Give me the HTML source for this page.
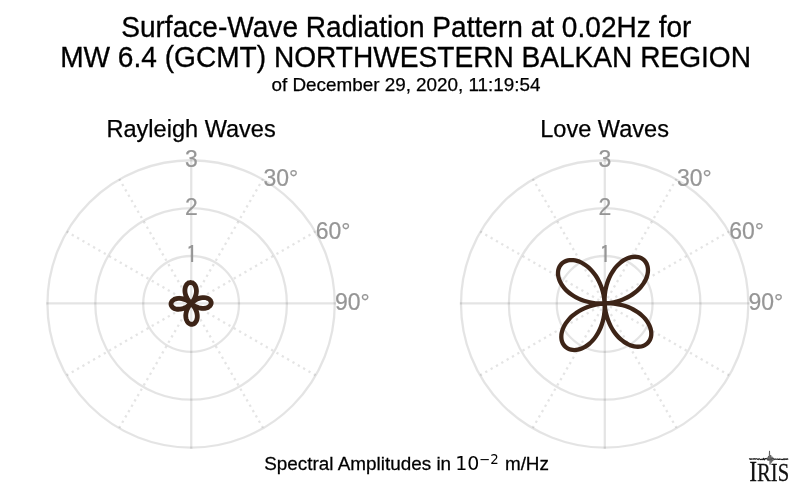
<!DOCTYPE html>
<html><head><meta charset="utf-8"><title>Surface-Wave Radiation Pattern</title>
<style>
html,body{margin:0;padding:0;background:#fff;}
body{width:800px;height:493px;overflow:hidden;font-family:"Liberation Sans",sans-serif;}
svg{display:block;font-family:"Liberation Sans",sans-serif;}
.dj{font-family:"DejaVu Sans",sans-serif;}
</style></head><body>
<svg width="800" height="493" viewBox="0 0 800 493">
<rect width="800" height="493" fill="#fff"/>
<text transform="translate(406.30,36.60) scale(1,1.025)" font-size="28.1" text-anchor="middle" fill="#000" stroke="#000" stroke-width="0.3">Surface-Wave Radiation Pattern at 0.02Hz for</text>
<text transform="translate(405.55,67.00) scale(1,1.04)" font-size="28.1" text-anchor="middle" fill="#000" stroke="#000" stroke-width="0.3">MW 6.4 (GCMT) NORTHWESTERN BALKAN REGION</text>
<text transform="translate(406.00,90.70) scale(1,1.0)" font-size="18.85" text-anchor="middle" fill="#000" stroke="#000" stroke-width="0.25">of December 29, 2020, 11:19:54</text>
<text transform="translate(191.10,136.70) scale(1,1.0)" font-size="23.55" text-anchor="middle" fill="#000" stroke="#000" stroke-width="0.25">Rayleigh Waves</text>
<text transform="translate(604.60,136.70) scale(1,1.0)" font-size="23.55" text-anchor="middle" fill="#000" stroke="#000" stroke-width="0.25">Love Waves</text>
<text transform="translate(0,470.2) scale(1,1.01)" font-size="18.9" fill="#000" stroke="#000" stroke-width="0.25"><tspan x="264.2">Spectral Amplitudes in</tspan><tspan class="dj" font-size="19" x="455.2" stroke-width="0">10</tspan><tspan class="dj" font-size="13.3" x="479" dy="-6.4" stroke-width="0">−2</tspan><tspan x="504.9" dy="6.4">m/Hz</tspan></text>
<circle cx="191.1" cy="303.9" r="47.88" fill="none" stroke="rgba(0,0,0,0.105)" stroke-width="2.3"/>
<circle cx="191.1" cy="303.9" r="95.77" fill="none" stroke="rgba(0,0,0,0.105)" stroke-width="2.3"/>
<circle cx="191.1" cy="303.9" r="143.65" fill="none" stroke="rgba(0,0,0,0.105)" stroke-width="2.3"/>
<line x1="46.30" y1="303.35" x2="335.90" y2="303.35" stroke="rgba(0,0,0,0.105)" stroke-width="2.3"/>
<line x1="191.25" y1="159.10" x2="191.25" y2="448.70" stroke="rgba(0,0,0,0.105)" stroke-width="2.3"/>
<line x1="191.1" y1="303.40" x2="262.92" y2="179.00" stroke="rgba(0,0,0,0.105)" stroke-width="2.3" stroke-dasharray="2.3 3.86"/>
<line x1="191.1" y1="303.40" x2="315.50" y2="231.57" stroke="rgba(0,0,0,0.105)" stroke-width="2.3" stroke-dasharray="2.3 3.86"/>
<line x1="191.1" y1="303.40" x2="315.50" y2="375.22" stroke="rgba(0,0,0,0.105)" stroke-width="2.3" stroke-dasharray="2.3 3.86"/>
<line x1="191.1" y1="303.40" x2="262.92" y2="427.80" stroke="rgba(0,0,0,0.105)" stroke-width="2.3" stroke-dasharray="2.3 3.86"/>
<line x1="191.1" y1="303.40" x2="119.27" y2="427.80" stroke="rgba(0,0,0,0.105)" stroke-width="2.3" stroke-dasharray="2.3 3.86"/>
<line x1="191.1" y1="303.40" x2="66.70" y2="375.23" stroke="rgba(0,0,0,0.105)" stroke-width="2.3" stroke-dasharray="2.3 3.86"/>
<line x1="191.1" y1="303.40" x2="66.70" y2="231.57" stroke="rgba(0,0,0,0.105)" stroke-width="2.3" stroke-dasharray="2.3 3.86"/>
<line x1="191.1" y1="303.40" x2="119.27" y2="179.00" stroke="rgba(0,0,0,0.105)" stroke-width="2.3" stroke-dasharray="2.3 3.86"/>
<text transform="translate(191.40,167.00) scale(1,1.04)" font-size="23" text-anchor="middle" fill="#969696" stroke="#969696" stroke-width="0.2">3</text>
<text transform="translate(191.40,214.80) scale(1,1.04)" font-size="23" text-anchor="middle" fill="#969696" stroke="#969696" stroke-width="0.2">2</text>
<text transform="translate(191.70,262.60) scale(1,1.02)" font-size="23" text-anchor="middle" fill="#969696" stroke="#969696" stroke-width="0.2" font-family="IPAGothic,'Liberation Sans',sans-serif">1</text>
<text transform="translate(263.50,185.80) scale(1,1.04)" font-size="23" text-anchor="start" fill="#969696" stroke="#969696" stroke-width="0.2">30°</text>
<text transform="translate(315.70,238.80) scale(1,1.04)" font-size="23" text-anchor="start" fill="#969696" stroke="#969696" stroke-width="0.2">60°</text>
<text transform="translate(335.00,310.10) scale(1,1.04)" font-size="23" text-anchor="start" fill="#969696" stroke="#969696" stroke-width="0.2">90°</text>
<circle cx="604.65" cy="303.9" r="47.88" fill="none" stroke="rgba(0,0,0,0.105)" stroke-width="2.3"/>
<circle cx="604.65" cy="303.9" r="95.77" fill="none" stroke="rgba(0,0,0,0.105)" stroke-width="2.3"/>
<circle cx="604.65" cy="303.9" r="143.65" fill="none" stroke="rgba(0,0,0,0.105)" stroke-width="2.3"/>
<line x1="459.85" y1="303.35" x2="749.45" y2="303.35" stroke="rgba(0,0,0,0.105)" stroke-width="2.3"/>
<line x1="604.80" y1="159.10" x2="604.80" y2="448.70" stroke="rgba(0,0,0,0.105)" stroke-width="2.3"/>
<line x1="604.65" y1="303.40" x2="676.47" y2="179.00" stroke="rgba(0,0,0,0.105)" stroke-width="2.3" stroke-dasharray="2.3 3.86"/>
<line x1="604.65" y1="303.40" x2="729.05" y2="231.57" stroke="rgba(0,0,0,0.105)" stroke-width="2.3" stroke-dasharray="2.3 3.86"/>
<line x1="604.65" y1="303.40" x2="729.05" y2="375.22" stroke="rgba(0,0,0,0.105)" stroke-width="2.3" stroke-dasharray="2.3 3.86"/>
<line x1="604.65" y1="303.40" x2="676.47" y2="427.80" stroke="rgba(0,0,0,0.105)" stroke-width="2.3" stroke-dasharray="2.3 3.86"/>
<line x1="604.65" y1="303.40" x2="532.82" y2="427.80" stroke="rgba(0,0,0,0.105)" stroke-width="2.3" stroke-dasharray="2.3 3.86"/>
<line x1="604.65" y1="303.40" x2="480.25" y2="375.23" stroke="rgba(0,0,0,0.105)" stroke-width="2.3" stroke-dasharray="2.3 3.86"/>
<line x1="604.65" y1="303.40" x2="480.25" y2="231.57" stroke="rgba(0,0,0,0.105)" stroke-width="2.3" stroke-dasharray="2.3 3.86"/>
<line x1="604.65" y1="303.40" x2="532.82" y2="179.00" stroke="rgba(0,0,0,0.105)" stroke-width="2.3" stroke-dasharray="2.3 3.86"/>
<text transform="translate(604.95,167.00) scale(1,1.04)" font-size="23" text-anchor="middle" fill="#969696" stroke="#969696" stroke-width="0.2">3</text>
<text transform="translate(604.95,214.80) scale(1,1.04)" font-size="23" text-anchor="middle" fill="#969696" stroke="#969696" stroke-width="0.2">2</text>
<text transform="translate(605.25,262.60) scale(1,1.02)" font-size="23" text-anchor="middle" fill="#969696" stroke="#969696" stroke-width="0.2" font-family="IPAGothic,'Liberation Sans',sans-serif">1</text>
<text transform="translate(677.05,185.80) scale(1,1.04)" font-size="23" text-anchor="start" fill="#969696" stroke="#969696" stroke-width="0.2">30°</text>
<text transform="translate(729.25,238.80) scale(1,1.04)" font-size="23" text-anchor="start" fill="#969696" stroke="#969696" stroke-width="0.2">60°</text>
<text transform="translate(748.55,310.10) scale(1,1.04)" font-size="23" text-anchor="start" fill="#969696" stroke="#969696" stroke-width="0.2">90°</text>
<path d="M191.10 282.55C191.46 282.60 191.83 282.70 192.18 282.84C192.53 282.98 192.88 283.17 193.20 283.40C193.53 283.64 193.85 283.92 194.14 284.23C194.43 284.55 194.70 284.91 194.95 285.30C195.19 285.70 195.41 286.13 195.60 286.60C195.79 287.06 195.95 287.56 196.08 288.08C196.20 288.61 196.29 289.16 196.35 289.73C196.40 290.30 196.42 290.90 196.40 291.50C196.37 292.11 196.31 292.74 196.21 293.36C196.11 293.99 195.97 294.63 195.79 295.27C195.61 295.91 195.39 296.55 195.14 297.18C194.88 297.82 194.58 298.45 194.25 299.06C193.92 299.68 193.55 300.29 193.15 300.87C192.75 301.46 192.07 302.27 191.85 302.57C191.63 302.87 191.56 302.89 191.83 302.67C192.10 302.46 192.89 301.72 193.45 301.29C194.01 300.86 194.59 300.46 195.18 300.10C195.77 299.73 196.38 299.41 196.99 299.12C197.60 298.83 198.22 298.58 198.84 298.38C199.45 298.17 200.07 298.00 200.68 297.87C201.29 297.74 201.90 297.65 202.48 297.60C203.07 297.55 203.65 297.54 204.21 297.56C204.76 297.59 205.30 297.66 205.81 297.75C206.32 297.85 206.80 297.99 207.25 298.15C207.70 298.31 208.13 298.51 208.51 298.73C208.89 298.96 209.24 299.21 209.55 299.48C209.86 299.75 210.13 300.04 210.35 300.35C210.57 300.66 210.76 300.99 210.89 301.32C211.03 301.65 211.12 302.00 211.16 302.35C211.20 302.70 211.20 303.05 211.15 303.40C211.10 303.75 211.00 304.10 210.86 304.44C210.72 304.77 210.53 305.11 210.30 305.42C210.07 305.73 209.79 306.03 209.48 306.31C209.16 306.59 208.81 306.85 208.41 307.08C208.02 307.31 207.59 307.52 207.13 307.70C206.67 307.87 206.17 308.02 205.65 308.13C205.14 308.24 204.59 308.32 204.02 308.36C203.46 308.40 202.86 308.41 202.26 308.37C201.66 308.34 201.04 308.26 200.42 308.15C199.80 308.04 199.17 307.88 198.54 307.69C197.91 307.50 197.27 307.27 196.64 307.00C196.02 306.73 195.40 306.42 194.79 306.08C194.18 305.74 193.58 305.36 193.01 304.94C192.43 304.53 191.44 303.65 191.33 303.61C191.23 303.57 191.99 304.24 192.39 304.69C192.80 305.15 193.33 305.77 193.75 306.34C194.17 306.91 194.56 307.50 194.91 308.10C195.26 308.70 195.57 309.32 195.85 309.94C196.12 310.55 196.36 311.18 196.56 311.81C196.76 312.43 196.91 313.06 197.03 313.67C197.15 314.29 197.23 314.90 197.26 315.50C197.30 316.09 197.30 316.68 197.26 317.24C197.22 317.80 197.14 318.34 197.03 318.85C196.92 319.37 196.77 319.86 196.60 320.31C196.42 320.77 196.21 321.20 195.97 321.58C195.74 321.97 195.47 322.32 195.19 322.63C194.91 322.94 194.59 323.22 194.27 323.44C193.95 323.67 193.61 323.85 193.26 323.99C192.92 324.12 192.55 324.22 192.19 324.26C191.83 324.30 191.46 324.30 191.10 324.25C190.74 324.20 190.37 324.10 190.02 323.96C189.67 323.82 189.32 323.63 189.00 323.40C188.67 323.16 188.35 322.88 188.06 322.57C187.77 322.25 187.50 321.89 187.25 321.50C187.01 321.10 186.79 320.67 186.60 320.20C186.41 319.74 186.25 319.24 186.12 318.72C186.00 318.19 185.91 317.64 185.85 317.07C185.80 316.50 185.78 315.90 185.80 315.30C185.83 314.69 185.89 314.06 185.99 313.44C186.09 312.81 186.23 312.17 186.41 311.53C186.59 310.89 186.81 310.25 187.06 309.62C187.32 308.98 187.62 308.35 187.95 307.74C188.28 307.12 188.65 306.51 189.05 305.93C189.45 305.34 190.13 304.53 190.35 304.23C190.57 303.93 190.64 303.91 190.37 304.13C190.10 304.34 189.31 305.08 188.75 305.51C188.19 305.94 187.61 306.34 187.02 306.70C186.43 307.07 185.82 307.39 185.21 307.68C184.60 307.97 183.98 308.22 183.36 308.42C182.75 308.63 182.13 308.80 181.52 308.93C180.91 309.06 180.30 309.15 179.72 309.20C179.13 309.25 178.55 309.26 177.99 309.24C177.44 309.21 176.90 309.14 176.39 309.05C175.88 308.95 175.40 308.81 174.95 308.65C174.50 308.49 174.07 308.29 173.69 308.07C173.31 307.84 172.96 307.59 172.65 307.32C172.34 307.05 172.07 306.76 171.85 306.45C171.63 306.14 171.44 305.81 171.31 305.48C171.17 305.15 171.08 304.80 171.04 304.45C171.00 304.10 171.00 303.75 171.05 303.40C171.10 303.05 171.20 302.70 171.34 302.36C171.48 302.03 171.67 301.69 171.90 301.38C172.13 301.07 172.41 300.77 172.72 300.49C173.04 300.21 173.39 299.95 173.79 299.72C174.18 299.49 174.61 299.28 175.07 299.10C175.53 298.93 176.03 298.78 176.55 298.67C177.06 298.56 177.61 298.48 178.18 298.44C178.74 298.40 179.34 298.39 179.94 298.43C180.54 298.46 181.16 298.54 181.78 298.65C182.40 298.76 183.03 298.92 183.66 299.11C184.29 299.30 184.93 299.53 185.56 299.80C186.18 300.07 186.80 300.38 187.41 300.72C188.02 301.06 188.62 301.44 189.19 301.86C189.77 302.27 190.76 303.15 190.87 303.19C190.97 303.23 190.21 302.56 189.81 302.11C189.40 301.65 188.87 301.03 188.45 300.46C188.03 299.89 187.64 299.30 187.29 298.70C186.94 298.10 186.63 297.48 186.35 296.86C186.08 296.25 185.84 295.62 185.64 294.99C185.44 294.37 185.29 293.74 185.17 293.13C185.05 292.51 184.97 291.90 184.94 291.30C184.90 290.71 184.90 290.12 184.94 289.56C184.98 289.00 185.06 288.46 185.17 287.95C185.28 287.43 185.43 286.94 185.60 286.49C185.78 286.03 185.99 285.60 186.23 285.22C186.46 284.83 186.73 284.48 187.01 284.17C187.29 283.86 187.61 283.58 187.93 283.36C188.25 283.13 188.59 282.95 188.94 282.81C189.28 282.68 189.65 282.58 190.01 282.54C190.37 282.50 190.74 282.50 191.10 282.55Z" fill="none" stroke="#3d2417" stroke-width="4.8" stroke-linejoin="round"/>
<path d="M604.65 297.29C604.76 295.26 604.97 293.23 605.29 291.25C605.60 289.28 606.03 287.31 606.54 285.42C607.05 283.53 607.67 281.67 608.37 279.90C609.07 278.13 609.87 276.41 610.73 274.79C611.59 273.17 612.55 271.62 613.55 270.19C614.55 268.75 615.63 267.40 616.75 266.17C617.86 264.94 619.04 263.81 620.23 262.81C621.42 261.81 622.66 260.92 623.90 260.16C625.14 259.41 626.41 258.77 627.65 258.26C628.90 257.75 630.15 257.37 631.37 257.12C632.59 256.86 633.80 256.74 634.95 256.74C636.10 256.74 637.23 256.87 638.28 257.11C639.34 257.35 640.35 257.72 641.26 258.19C642.18 258.66 643.04 259.25 643.79 259.93C644.55 260.61 645.23 261.40 645.79 262.26C646.35 263.13 646.82 264.09 647.17 265.11C647.52 266.13 647.77 267.24 647.89 268.39C648.01 269.53 648.01 270.75 647.89 271.99C647.76 273.22 647.51 274.52 647.14 275.81C646.76 277.10 646.26 278.43 645.64 279.74C645.01 281.05 644.26 282.37 643.39 283.66C642.51 284.95 641.52 286.24 640.41 287.48C639.30 288.71 638.08 289.93 636.75 291.08C635.43 292.22 633.99 293.33 632.47 294.36C630.95 295.39 629.32 296.36 627.63 297.24C625.94 298.12 624.16 298.93 622.33 299.64C620.50 300.35 618.60 300.98 616.66 301.50C614.73 302.02 612.73 302.44 610.73 302.76C608.73 303.08 604.64 303.29 604.65 303.40C604.66 303.51 608.74 303.29 610.76 303.40C612.79 303.51 614.82 303.72 616.80 304.04C618.77 304.35 620.74 304.78 622.63 305.29C624.52 305.80 626.38 306.42 628.15 307.12C629.92 307.82 631.64 308.62 633.26 309.48C634.88 310.34 636.43 311.30 637.86 312.30C639.30 313.30 640.65 314.38 641.88 315.50C643.11 316.61 644.24 317.79 645.24 318.98C646.24 320.17 647.13 321.41 647.89 322.65C648.64 323.89 649.28 325.16 649.79 326.40C650.30 327.65 650.68 328.90 650.93 330.12C651.19 331.34 651.31 332.55 651.31 333.70C651.31 334.85 651.18 335.98 650.94 337.03C650.70 338.09 650.33 339.10 649.86 340.01C649.39 340.93 648.80 341.79 648.12 342.54C647.44 343.30 646.65 343.98 645.79 344.54C644.92 345.10 643.96 345.57 642.94 345.92C641.92 346.27 640.81 346.52 639.66 346.64C638.52 346.76 637.30 346.76 636.06 346.64C634.83 346.51 633.53 346.26 632.24 345.89C630.95 345.51 629.62 345.01 628.31 344.39C627.00 343.76 625.68 343.01 624.39 342.14C623.10 341.26 621.81 340.27 620.57 339.16C619.34 338.05 618.12 336.83 616.97 335.50C615.83 334.18 614.72 332.74 613.69 331.22C612.66 329.70 611.69 328.07 610.81 326.38C609.93 324.69 609.12 322.91 608.41 321.08C607.70 319.25 607.07 317.35 606.55 315.41C606.03 313.48 605.61 311.48 605.29 309.48C604.97 307.48 604.76 303.39 604.65 303.40C604.54 303.41 604.76 307.49 604.65 309.51C604.54 311.54 604.33 313.57 604.01 315.55C603.70 317.52 603.27 319.49 602.76 321.38C602.25 323.27 601.63 325.13 600.93 326.90C600.23 328.67 599.43 330.39 598.57 332.01C597.71 333.63 596.75 335.18 595.75 336.61C594.75 338.05 593.67 339.40 592.55 340.63C591.44 341.86 590.26 342.99 589.07 343.99C587.88 344.99 586.64 345.88 585.40 346.64C584.16 347.39 582.89 348.03 581.65 348.54C580.40 349.05 579.15 349.43 577.93 349.68C576.71 349.94 575.50 350.06 574.35 350.06C573.20 350.06 572.07 349.93 571.02 349.69C569.96 349.45 568.95 349.08 568.04 348.61C567.12 348.14 566.26 347.55 565.51 346.87C564.75 346.19 564.07 345.40 563.51 344.54C562.95 343.67 562.48 342.71 562.13 341.69C561.78 340.67 561.53 339.56 561.41 338.41C561.29 337.27 561.29 336.05 561.41 334.81C561.54 333.58 561.79 332.28 562.16 330.99C562.54 329.70 563.04 328.37 563.66 327.06C564.29 325.75 565.04 324.43 565.91 323.14C566.79 321.85 567.78 320.56 568.89 319.32C570.00 318.09 571.22 316.87 572.55 315.72C573.87 314.58 575.31 313.47 576.83 312.44C578.35 311.41 579.98 310.44 581.67 309.56C583.36 308.68 585.14 307.87 586.97 307.16C588.80 306.45 590.70 305.82 592.64 305.30C594.57 304.78 596.57 304.36 598.57 304.04C600.57 303.72 604.66 303.51 604.65 303.40C604.64 303.29 600.56 303.51 598.54 303.40C596.51 303.29 594.48 303.08 592.50 302.76C590.53 302.45 588.56 302.02 586.67 301.51C584.78 301.00 582.92 300.38 581.15 299.68C579.38 298.98 577.66 298.18 576.04 297.32C574.42 296.46 572.87 295.50 571.44 294.50C570.00 293.50 568.65 292.42 567.42 291.30C566.19 290.19 565.06 289.01 564.06 287.82C563.06 286.63 562.17 285.39 561.41 284.15C560.66 282.91 560.02 281.64 559.51 280.40C559.00 279.15 558.62 277.90 558.37 276.68C558.11 275.46 557.99 274.25 557.99 273.10C557.99 271.95 558.12 270.82 558.36 269.77C558.60 268.71 558.97 267.70 559.44 266.79C559.91 265.87 560.50 265.01 561.18 264.26C561.86 263.50 562.65 262.82 563.51 262.26C564.38 261.70 565.34 261.23 566.36 260.88C567.38 260.53 568.49 260.28 569.64 260.16C570.78 260.04 572.00 260.04 573.24 260.16C574.47 260.29 575.77 260.54 577.06 260.91C578.35 261.29 579.68 261.79 580.99 262.41C582.30 263.04 583.62 263.79 584.91 264.66C586.20 265.54 587.49 266.53 588.73 267.64C589.96 268.75 591.18 269.97 592.33 271.30C593.47 272.62 594.58 274.06 595.61 275.58C596.64 277.10 597.61 278.73 598.49 280.42C599.37 282.11 600.18 283.89 600.89 285.72C601.60 287.55 602.23 289.45 602.75 291.39C603.27 293.32 603.69 295.32 604.01 297.32C604.33 299.32 604.54 303.41 604.65 303.40C604.76 303.39 604.54 299.31 604.65 297.29Z" fill="none" stroke="#3d2417" stroke-width="4.3" stroke-linejoin="round"/>
<!-- IRIS logo -->
<g id="iris">
<path d="M749.00 459.01 L749.70 458.82 L750.40 459.37 L751.10 458.73 L751.80 459.24 L752.50 459.05 L753.20 458.71 L753.90 459.21 L754.60 458.69 L755.30 459.13 L756.00 458.73 L756.70 458.75 L757.40 459.12 L758.10 459.56 L758.80 458.79 L759.50 458.90 L760.20 459.34 L760.90 459.69 L761.60 459.28 L762.30 459.09 L763.00 459.72 L763.70 458.38 L764.40 459.85 L765.10 458.82 L765.80 458.56 L766.50 458.51 L767.20 458.86 L767.90 459.77 L768.60 459.20 L769.30 459.20 L770.00 459.20 L770.70 459.20 L771.40 459.29 L772.10 458.41 L772.80 458.41 L773.50 458.67 L774.20 459.52 L774.90 459.07 L775.60 459.00 L776.30 459.29 L777.00 459.15 L777.70 458.98 L778.40 459.52 L779.10 459.42 L779.80 458.92 L780.50 459.28 L781.20 459.23 L781.90 459.61 L782.60 459.45 L783.30 458.97 L784.00 459.73 L784.70 458.78 L785.40 459.11 L786.10 459.48 L786.80 458.82 L787.50 459.19 L788.20 458.69" fill="none" stroke="#1a1a1a" stroke-width="1.15" stroke-linejoin="round"/><path d="M766.60 459.20 L767.30 457.60 L767.90 460.40 L768.50 456.00 L769.00 461.00 L769.50 450.90 L770.10 464.60 L770.70 455.00 L771.30 462.60 L771.90 456.60 L772.50 461.30 L773.10 457.80 L773.70 460.30 L774.40 459.20" fill="none" stroke="#555" stroke-width="0.8" stroke-linejoin="round"/>
<text transform="translate(749.2,481.1) scale(0.8,1)" font-family="'Liberation Serif',serif" font-size="29.3" fill="#111" stroke="#111" stroke-width="0.25">I<tspan font-size="25.8">RIS</tspan></text>
</g>
</svg>
</body></html>
